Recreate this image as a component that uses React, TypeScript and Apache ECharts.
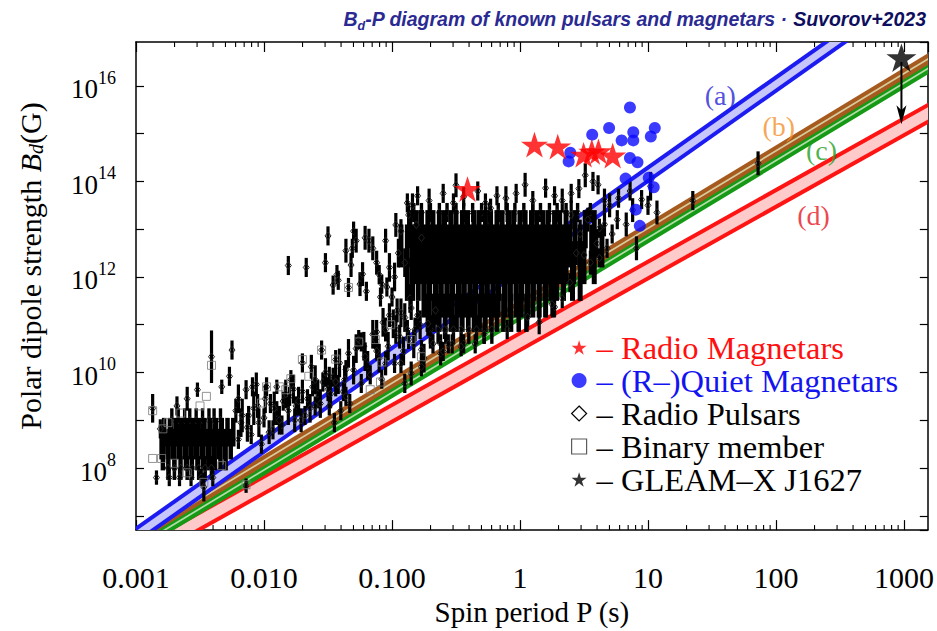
import React, { useEffect, useRef } from 'react';
import * as echarts from 'echarts';

// ---------- axis ranges (log10 units) ----------
const LOG_P_MIN = -3;
const LOG_P_MAX = 3.186;
const LOG_B_MIN = 6.7;
const LOG_B_MAX = 16.92;

const xTickValues = [-3, -2, -1, 0, 1, 2, 3];
const xTickLabels = ['0.001', '0.010', '0.100', '1', '10', '100', '1000'];
const yLabelExponents = [8, 10, 12, 14, 16];
const minorMultipliers = [2, 3, 4, 5, 6, 7, 8, 9];
const minorDecades = [-3, -2, -1, 0, 1, 2, 3];

// ---------- magnetars: [log10 P(s), log10 B(G)] ----------
const radioMagnetars = [
  [-0.41, 13.84], [0.113, 14.77], [0.295, 14.73], [0.497, 14.56], [0.561, 14.62], [0.613, 14.63], [0.724, 14.54],
];
const quietMagnetars = [
  [0.859, 15.55], [0.696, 15.12], [0.564, 14.98], [0.885, 15.03], [0.885, 14.86], [0.794, 14.86], [1.053, 15.12],
  [1.022, 14.94], [0.393, 14.6], [0.38, 14.42], [0.859, 14.49], [0.918, 14.4], [0.825, 14.06], [1.006, 14.08],
  [1.045, 13.88], [0.905, 13.41], [0.936, 13.07],
];
const gleamX = [[2.98, 16.59]];
const gleamArrow = [[2.98, 16.5, 15.2]];

// ---------- radio pulsars: rows of the dense cloud [log10 B, err(dex), bar width, log10 P list] ----------
const coreRows: [number, number, number, number[]][] = [
  [13.35, 0.2, 3.4, [-0.83, -0.77, -0.7, -0.63, -0.57, -0.5, -0.44, -0.37, -0.3, -0.24, -0.17, -0.1, -0.04, 0.03, 0.1, 0.16, 0.23, 0.29, 0.36, 0.45, 0.55]],
  [13.0, 0.4, 5, [-0.86, -0.81, -0.77, -0.72, -0.68, -0.63, -0.59, -0.54, -0.5, -0.45, -0.41, -0.36, -0.32, -0.27, -0.23, -0.18, -0.14, -0.09, -0.05, 0.0, 0.04, 0.09, 0.13, 0.18, 0.22, 0.27, 0.31, 0.36, 0.43, 0.51, 0.58]],
  [12.65, 0.45, 5, [-0.93, -0.88, -0.84, -0.79, -0.75, -0.7, -0.66, -0.61, -0.57, -0.52, -0.48, -0.43, -0.39, -0.34, -0.3, -0.25, -0.21, -0.16, -0.12, -0.07, -0.03, 0.02, 0.06, 0.11, 0.15, 0.2, 0.24, 0.29, 0.33, 0.39, 0.47, 0.56, 0.64]],
  [12.3, 0.45, 5, [-0.81, -0.77, -0.72, -0.68, -0.63, -0.59, -0.54, -0.5, -0.45, -0.41, -0.36, -0.32, -0.27, -0.23, -0.18, -0.14, -0.09, -0.05, 0.0, 0.04, 0.09, 0.13, 0.18, 0.22, 0.27, 0.31, 0.36, 0.42, 0.5, 0.58]],
  [11.95, 0.45, 5, [-0.88, -0.84, -0.795, -0.75, -0.705, -0.66, -0.615, -0.57, -0.525, -0.48, -0.435, -0.39, -0.345, -0.3, -0.255, -0.21, -0.165, -0.12, -0.075, -0.03, 0.015, 0.06, 0.105, 0.15, 0.195, 0.24, 0.285, 0.34, 0.41, 0.47]],
  [11.6, 0.45, 5, [-0.75, -0.71, -0.66, -0.62, -0.57, -0.53, -0.48, -0.44, -0.39, -0.35, -0.3, -0.26, -0.21, -0.17, -0.12, -0.08, -0.03, 0.01, 0.06, 0.1, 0.15, 0.2, 0.26]],
  [11.25, 0.4, 4.5, [-0.72, -0.675, -0.63, -0.585, -0.54, -0.495, -0.45, -0.405, -0.36, -0.315, -0.27, -0.225, -0.18, -0.13, -0.07, -0.01, 0.05]],
  [10.9, 0.3, 3.4, [-0.7, -0.64, -0.58, -0.52, -0.46, -0.4, -0.34, -0.28, -0.22]],
  [10.6, 0.2, 3.2, [-0.62, -0.53, -0.44, -0.35]],
];
const mspRows: [number, number, number, number[]][] = [
  [9.0, 0.25, 3.4, [-2.72, -2.67, -2.62, -2.58, -2.53, -2.48, -2.43, -2.39, -2.34]],
  [8.75, 0.3, 4.5, [-2.78, -2.735, -2.69, -2.645, -2.6, -2.555, -2.51, -2.465, -2.42, -2.375, -2.33, -2.285, -2.24]],
  [8.5, 0.32, 4.5, [-2.8, -2.755, -2.71, -2.665, -2.62, -2.575, -2.53, -2.485, -2.44, -2.395, -2.35, -2.305, -2.26]],
  [8.25, 0.3, 4.5, [-2.79, -2.745, -2.7, -2.655, -2.61, -2.565, -2.52, -2.475, -2.43, -2.385, -2.34, -2.3]],
  [8.0, 0.25, 3.6, [-2.75, -2.7, -2.65, -2.6, -2.56, -2.51, -2.46, -2.41]],
  [7.8, 0.18, 3.2, [-2.74, -2.66, -2.57, -2.49, -2.4]],
];
// individual pulsars [log10 P, log10 B, err(dex)]
const pulsarPoints = [
  [-2.87, 9.25, 0.3], [-2.84, 7.8, 0.15], [-2.81, 8.82, 0.2], [-2.68, 9.3, 0.2], [-2.6, 9.45, 0.25], [-2.52, 9.64, 0.15],
  [-2.41, 10.33, 0.55], [-2.47, 7.6, 0.3], [-2.25, 10.47, 0.2], [-2.27, 9.92, 0.2], [-2.33, 9.7, 0.15], [-2.14, 7.63, 0.15],
  [-2.14, 9.64, 0.2], [-2.09, 9.7, 0.2], [-2.06, 9.75, 0.25], [-1.98, 9.7, 0.2], [-1.9, 9.7, 0.15], [-1.79, 9.85, 0.2],
  [-1.7, 10.2, 0.2], [-1.63, 10.12, 0.25], [-1.55, 10.47, 0.2], [-1.44, 10.27, 0.2], [-1.49, 9.92, 0.2], [-1.36, 10.06, 0.2],
  [-2.22, 9.2, 0.25], [-2.18, 8.95, 0.3], [-2.12, 9.1, 0.2], [-2.05, 9.3, 0.25], [-2.0, 9.05, 0.2], [-1.95, 9.35, 0.2],
  [-1.9, 9.15, 0.25], [-1.85, 9.4, 0.2], [-1.8, 9.5, 0.2], [-1.75, 9.3, 0.2], [-1.7, 9.6, 0.25], [-1.66, 9.45, 0.2],
  [-1.62, 9.7, 0.2], [-1.58, 9.55, 0.3], [-1.54, 9.8, 0.2], [-1.5, 9.65, 0.25], [-1.46, 9.9, 0.2], [-1.42, 9.75, 0.2],
  [-1.38, 9.6, 0.2], [-2.2, 8.6, 0.2], [-2.1, 8.7, 0.2], [-2.02, 8.5, 0.2], [-1.93, 8.8, 0.2], [-1.86, 8.9, 0.2],
  [-1.76, 9.0, 0.25], [-1.68, 9.1, 0.2], [-1.6, 9.3, 0.2], [-1.45, 8.95, 0.2], [-1.4, 9.2, 0.2], [-1.33, 9.35, 0.2],
  [-2.2, 9.45, 0.3], [-2.17, 9.1, 0.35], [-2.13, 8.85, 0.3], [-2.08, 9.25, 0.35], [-2.04, 8.95, 0.3], [-1.99, 9.45, 0.3],
  [-1.96, 8.75, 0.25], [-1.92, 9.25, 0.35], [-1.88, 9.0, 0.3], [-1.83, 9.55, 0.3], [-1.81, 9.2, 0.3], [-1.77, 9.65, 0.3],
  [-1.73, 9.4, 0.3], [-1.71, 9.0, 0.25], [-1.64, 9.25, 0.3], [-1.6, 9.85, 0.3], [-1.56, 9.35, 0.3], [-1.52, 10.0, 0.3],
  [-1.48, 9.55, 0.3], [-1.44, 9.8, 0.3], [-1.41, 10.2, 0.3], [-1.37, 9.85, 0.3], [-1.34, 10.4, 0.3], [-1.3, 10.05, 0.3],
  [-1.28, 10.5, 0.3], [-1.22, 10.55, 0.3], [-1.19, 10.15, 0.3], [-1.15, 10.8, 0.3], [-1.1, 10.3, 0.3], [-1.07, 11.05, 0.3],
  [-1.03, 10.55, 0.3], [-0.97, 10.9, 0.3], [-0.93, 11.25, 0.3], [-0.91, 10.45, 0.3], [-0.86, 11.55, 0.3], [-0.83, 10.6, 0.3],
  [-0.78, 11.0, 0.3], [-0.75, 10.3, 0.3], [-0.7, 10.8, 0.3], [-0.66, 11.3, 0.3],
  [-1.26, 10.69, 0.2], [-1.24, 10.64, 0.2], [-1.13, 10.69, 0.2], [-1.05, 10.9, 0.25], [-0.99, 11.02, 0.3], [-1.21, 10.33, 0.3],
  [-1.05, 10.19, 0.25], [-0.98, 10.19, 0.2], [-0.85, 9.98, 0.25], [-0.77, 10.12, 0.2], [-0.9, 9.77, 0.2], [-1.08, 9.86, 0.2],
  [-1.24, 9.77, 0.2], [-1.36, 9.5, 0.2], [-1.49, 9.3, 0.2], [-0.77, 10.48, 0.2], [-0.87, 10.69, 0.2], [-0.82, 10.9, 0.25],
  [-0.72, 11.02, 0.25], [-0.59, 10.9, 0.2], [-0.56, 10.6, 0.2], [-0.62, 10.4, 0.25], [-0.68, 10.6, 0.2], [-0.6, 10.44, 0.2],
  [-0.93, 10.19, 0.2], [-1.17, 9.95, 0.2], [-1.12, 10.45, 0.2], [-1.02, 11.2, 0.25], [-0.96, 11.3, 0.25], [-0.9, 11.15, 0.3],
  [-0.85, 11.35, 0.25], [-0.8, 11.2, 0.3], [-1.12, 10.85, 0.25], [-0.94, 10.75, 0.25], [-0.88, 10.9, 0.2],
  [-1.81, 12.24, 0.2], [-1.67, 12.2, 0.2], [-1.52, 12.3, 0.2], [-1.5, 12.86, 0.2], [-1.46, 11.83, 0.2], [-1.43, 12.05, 0.2],
  [-1.42, 11.93, 0.2], [-1.36, 12.55, 0.25], [-1.34, 11.78, 0.2], [-1.32, 12.25, 0.25], [-1.31, 12.6, 0.2], [-1.3, 12.96, 0.2],
  [-1.28, 12.76, 0.25], [-1.25, 11.85, 0.25], [-1.23, 12.06, 0.25], [-1.21, 12.82, 0.25], [-1.18, 12.76, 0.25], [-1.15, 12.6, 0.25],
  [-1.12, 12.3, 0.25], [-1.09, 11.58, 0.2], [-1.08, 11.85, 0.2], [-1.05, 12.76, 0.25], [-1.04, 11.79, 0.2], [-1.0, 11.58, 0.2],
  [-1.02, 12.2, 0.3], [-0.97, 13.09, 0.25], [-0.95, 12.5, 0.3], [-0.93, 12.96, 0.25], [-0.87, 13.3, 0.25], [-0.84, 13.5, 0.25],
  [-0.81, 13.09, 0.25], [-0.77, 12.82, 0.25], [-1.1, 12.05, 0.2], [-1.2, 11.7, 0.2], [-0.98, 12.0, 0.3], [-0.9, 12.3, 0.3],
  [-0.88, 13.55, 0.2], [-0.8, 13.7, 0.2], [-0.71, 13.6, 0.25], [-0.6, 13.75, 0.2], [-0.52, 13.55, 0.2], [-0.5, 13.92, 0.25],
  [-0.44, 13.68, 0.2], [-0.33, 13.8, 0.2], [-0.27, 13.55, 0.2], [-0.23, 13.44, 0.2], [-0.18, 13.7, 0.2], [-0.11, 13.65, 0.25],
  [-0.03, 13.75, 0.2], [0.04, 13.93, 0.25], [0.1, 13.6, 0.2], [0.2, 13.86, 0.2], [0.27, 13.7, 0.2], [0.33, 13.6, 0.25],
  [0.4, 13.75, 0.2], [0.46, 13.85, 0.2], [0.51, 14.13, 0.25], [0.57, 14.0, 0.2], [0.61, 13.93, 0.2], [0.66, 13.6, 0.25],
  [0.7, 13.5, 0.25], [0.77, 13.65, 0.2], [0.86, 13.8, 0.2], [0.88, 13.4, 0.25], [0.95, 13.62, 0.2], [1.0, 13.5, 0.2],
  [1.02, 13.9, 0.3], [1.07, 13.35, 0.25], [0.76, 13.2, 0.2], [0.83, 13.1, 0.25], [0.91, 12.6, 0.25], [0.72, 12.9, 0.2],
  [0.62, 13.02, 0.2], [0.68, 12.6, 0.2],
  [0.4, 13.3, 0.3], [0.47, 12.9, 0.3], [0.53, 13.2, 0.25], [0.6, 12.7, 0.3], [0.66, 13.1, 0.25], [0.44, 12.5, 0.25],
  [0.55, 12.3, 0.25], [0.5, 12.46, 0.2], [0.39, 11.88, 0.2], [0.33, 11.55, 0.2], [0.27, 11.37, 0.2], [0.15, 11.05, 0.25],
  [0.06, 11.16, 0.2], [-0.1, 10.9, 0.2], [-0.28, 10.8, 0.2], [-0.46, 10.54, 0.2], [0.62, 12.4, 0.2], [0.25, 11.43, 0.25],
  [1.35, 13.6, 0.2], [1.86, 14.38, 0.25],
];
// binary members [log10 P, log10 B]
const binaryMembers = [
  [-2.87, 8.2], [-2.87, 9.2], [-2.8, 8.2], [-2.79, 8.82], [-2.75, 8.95], [-2.7, 8.1], [-2.65, 9.15], [-2.6, 7.9],
  [-2.5, 9.3], [-2.45, 9.5], [-2.41, 10.15], [-2.47, 7.7], [-2.33, 8.05], [-2.14, 7.65], [-2.02, 9.36], [-1.98, 9.7],
  [-1.88, 9.7], [-1.83, 9.64], [-1.79, 9.87], [-1.7, 10.27], [-1.65, 9.92], [-1.55, 10.47], [-1.44, 10.28], [-1.26, 10.64],
  [-1.17, 9.64], [-1.13, 10.69], [-1.09, 9.8], [-1.08, 10.22], [-1.01, 11.0], [-0.85, 10.69], [-0.77, 10.33], [-1.34, 11.78],
];

// ---------- death-line bands: line endpoints [log10 P, log10 B] ----------
const bandAUpper = [[-3.3, 6.163], [3.4, 18.826]];
const bandALower = [[-3.3, 5.883], [3.4, 18.546]];
const bandBUpper = [[-3.3, 6.124], [3.4, 16.978]];
const bandBLower = [[-3.3, 5.984], [3.4, 16.838]];
const bandCUpper = [[-3.3, 5.924], [3.4, 16.778]];
const bandCLower = [[-3.3, 5.784], [3.4, 16.638]];
const bandDUpper = [[-3.3, 5.87], [3.4, 15.92]];
const bandDLower = [[-3.3, 5.52], [3.4, 15.57]];
const bandLabels = ['(a)', '(b)', '(c)', '(d)'];
const bandLabelPos = [[1.564, 15.79], [2.022, 15.15], [2.356, 14.65], [2.293, 13.28]];

const STAR = 'path://M50,0L61.2,34.5L97.6,34.5L68.2,55.9L79.4,90.5L50,69.1L20.6,90.5L31.8,55.9L2.4,34.5L38.8,34.5Z';
const SERIF = 'Liberation Serif';

const N_RM = '– Radio Magnetars';
const N_QM = '– (R–)Quiet Magnetars';
const N_RP = '– Radio Pulsars';
const N_BM = '– Binary member';
const N_GX = '– GLEAM–X J1627';

function buildOption() {
  const pulsarItems: number[][] = [];
  [...coreRows, ...mspRows].forEach(([b, e, w, ps]) => ps.forEach((p) => pulsarItems.push([p, b, e, w])));
  pulsarPoints.forEach((d) => pulsarItems.push([d[0], d[1], d[2], 3.2]));

  const minorTicks: number[][] = [];
  minorDecades.forEach((d) => minorMultipliers.forEach((m) => {
    const v = d + Math.log10(m);
    if (v < LOG_P_MAX) minorTicks.push([v, LOG_B_MIN]);
  }));

  const bandStyles = [
    { up: bandDUpper, lo: bandDLower, line: '#ff1414', fill: '#ffcaca' },
    { up: bandCUpper, lo: bandCLower, line: '#169a16', fill: '#b4dca8' },
    { up: bandBUpper, lo: bandBLower, line: '#a65a1e', fill: '#d6cc9c' },
    { up: bandAUpper, lo: bandALower, line: '#1c1cf2', fill: '#c6c6fa' },
  ];
  const bandData = bandStyles.map((b, i) => [b.up[0][0], b.up[0][1], b.lo[0][1], b.up[1][0], b.up[1][1], b.lo[1][1], i]);

  const xFormatter = (v: number) => {
    const i = xTickValues.findIndex((t) => Math.abs(t - v) < 1e-6);
    return i >= 0 ? xTickLabels[i] : '';
  };
  const yFormatter = (v: number) => {
    const e = yLabelExponents.find((t) => Math.abs(t - v) < 1e-6);
    return e !== undefined ? `{b|10}{s|${e}}` : '';
  };

  const axisLine = { show: true, onZero: false, lineStyle: { color: '#000', width: 1.5 } };

  return {
    animation: false,
    backgroundColor: '#fff',
    title: {
      text: '{it|B}{sub|d}{it|-P diagram of known pulsars and magnetars · }{bd|Suvorov+2023}',
      right: 6,
      top: 2,
      textStyle: {
        rich: {
          it: { fontFamily: 'Liberation Sans', fontStyle: 'italic', fontSize: 19.5, color: '#2a2a92', lineHeight: 24 },
          sub: { fontFamily: 'Liberation Sans', fontStyle: 'italic', fontSize: 12.5, color: '#2a2a92', padding: [14, 0, 0, 0], lineHeight: 24 },
          bd: { fontFamily: 'Liberation Sans', fontStyle: 'italic', fontWeight: 'bold', fontSize: 19.5, color: '#0e0e5e', lineHeight: 24 },
        },
      },
    },
    grid: { left: 136, right: 4, top: 42, bottom: 96, containLabel: false },
    legend: {
      orient: 'vertical',
      left: 566,
      top: 326,
      itemWidth: 15,
      itemHeight: 15,
      itemGap: 0,
      selectedMode: false,
      textStyle: { fontFamily: SERIF, fontSize: 32.5, lineHeight: 33, color: '#000', padding: [0, 0, 0, 5] },
      data: [
        { name: N_RM, icon: STAR, itemStyle: { color: '#ff0000' }, textStyle: { color: '#ff1010' } },
        { name: N_QM, icon: 'circle', itemStyle: { color: '#0a0aff' }, textStyle: { color: '#1414f0' } },
        { name: N_RP, icon: 'diamond', itemStyle: { color: '#ffffff', borderColor: '#000', borderWidth: 1.2 } },
        { name: N_BM, icon: 'rect', itemStyle: { color: '#ffffff', borderColor: '#333', borderWidth: 1.2 } },
        { name: N_GX, icon: STAR, itemStyle: { color: '#000' } },
      ],
    },
    xAxis: [
      {
        type: 'value', min: LOG_P_MIN, max: LOG_P_MAX, interval: 1, position: 'bottom',
        name: 'Spin period P (s)', nameLocation: 'middle', nameGap: 58,
        nameTextStyle: { fontFamily: SERIF, fontSize: 29, color: '#000' },
        axisLine, splitLine: { show: false },
        axisTick: { inside: true, length: 10, lineStyle: { color: '#000', width: 1.2 } },
        axisLabel: { formatter: xFormatter, margin: 32, fontFamily: SERIF, fontSize: 30, color: '#000', showMaxLabel: false },
      },
      {
        type: 'value', min: LOG_P_MIN, max: LOG_P_MAX, interval: 1, position: 'top',
        axisLine, splitLine: { show: false },
        axisTick: { inside: true, length: 10, lineStyle: { color: '#000', width: 1.2 } },
        axisLabel: { show: false },
      },
    ],
    yAxis: [
      {
        type: 'value', min: LOG_B_MIN, max: LOG_B_MAX, splitNumber: 10, position: 'left',
        name: 'Polar dipole strength {i|B}{s|d}(G)', nameLocation: 'middle', nameGap: 90, nameRotate: 90,
        nameTextStyle: {
          fontFamily: SERIF, fontSize: 30, color: '#000', padding: [0, 0, 0, 40],
          rich: {
            i: { fontFamily: SERIF, fontStyle: 'italic', fontSize: 30, color: '#000' },
            s: { fontFamily: SERIF, fontStyle: 'italic', fontSize: 20, color: '#000', padding: [12, 0, 0, 0] },
          },
        },
        axisLine, splitLine: { show: false },
        axisTick: { inside: true, length: 8, lineStyle: { color: '#000', width: 1.2 } },
        axisLabel: {
          formatter: yFormatter, margin: 20, showMinLabel: false, showMaxLabel: false,
          rich: {
            b: { fontFamily: SERIF, fontSize: 27, color: '#000', lineHeight: 34, verticalAlign: 'bottom' },
            s: { fontFamily: SERIF, fontSize: 18, color: '#000', lineHeight: 20, verticalAlign: 'top' },
          },
        },
      },
      {
        type: 'value', min: LOG_B_MIN, max: LOG_B_MAX, splitNumber: 10, position: 'right',
        axisLine, splitLine: { show: false },
        axisTick: { inside: true, length: 8, lineStyle: { color: '#000', width: 1.2 } },
        axisLabel: { show: false },
      },
    ],
    series: [
      {
        type: 'custom', name: 'minorTicks', silent: true, z: 1, clip: false,
        data: minorTicks, encode: { x: 0, y: 1 },
        renderItem: (_p: any, api: any) => {
          const v = api.value(0);
          const b = api.coord([v, LOG_B_MIN]);
          const t = api.coord([v, LOG_B_MAX]);
          const st = { stroke: '#000', lineWidth: 1.1 };
          return {
            type: 'group', children: [
              { type: 'line', shape: { x1: b[0], y1: b[1], x2: b[0], y2: b[1] - 5 }, style: st },
              { type: 'line', shape: { x1: t[0], y1: t[1], x2: t[0], y2: t[1] + 5 }, style: st },
            ],
          };
        },
      },
      {
        type: 'custom', name: 'bands', silent: true, z: 2, clip: true,
        data: bandData, encode: { x: [0, 3], y: [1, 2, 4, 5] },
        renderItem: (_p: any, api: any) => {
          const s = bandStyles[api.value(6)];
          const u0 = api.coord([api.value(0), api.value(1)]);
          const u1 = api.coord([api.value(3), api.value(4)]);
          const l0 = api.coord([api.value(0), api.value(2)]);
          const l1 = api.coord([api.value(3), api.value(5)]);
          return {
            type: 'group', children: [
              { type: 'polygon', shape: { points: [u0, u1, l1, l0] }, style: { fill: s.fill } },
              { type: 'line', shape: { x1: u0[0], y1: u0[1], x2: u1[0], y2: u1[1] }, style: { stroke: s.line, lineWidth: 4 } },
              { type: 'line', shape: { x1: l0[0], y1: l0[1], x2: l1[0], y2: l1[1] }, style: { stroke: s.line, lineWidth: 4 } },
            ],
          };
        },
      },
      {
        type: 'custom', name: N_RP, z: 3, clip: true,
        itemStyle: { color: '#ffffff', borderColor: '#000' },
        data: pulsarItems, encode: { x: 0, y: 1 },
        renderItem: (_p: any, api: any) => {
          const x = api.value(0), y = api.value(1), e = api.value(2), w = api.value(3);
          const t = api.coord([x, y + e]);
          const b = api.coord([x, y - e]);
          const c = api.coord([x, y]);
          const children: any[] = [
            { type: 'line', shape: { x1: t[0], y1: t[1], x2: b[0], y2: b[1] }, style: { stroke: '#000', lineWidth: w } },
          ];
          if (w < 4) {
            children.push({ type: 'polygon', shape: { points: [[c[0], c[1] - 3.8], [c[0] + 3, c[1]], [c[0], c[1] + 3.8], [c[0] - 3, c[1]]] }, style: { fill: 'none', stroke: '#222', lineWidth: 1 } });
          }
          return { type: 'group', children };
        },
      },
      {
        type: 'scatter', name: N_BM, z: 4, symbol: 'rect', symbolSize: 8,
        itemStyle: { color: 'rgba(255,255,255,0)', borderColor: '#7a7a7a', borderWidth: 1 },
        data: binaryMembers,
      },
      {
        type: 'scatter', name: N_QM, z: 5, symbol: 'circle', symbolSize: 12,
        itemStyle: { color: '#0a0aff' }, data: quietMagnetars,
      },
      {
        type: 'scatter', name: N_RM, z: 6, symbol: STAR, symbolSize: 27, symbolKeepAspect: true,
        itemStyle: { color: '#ff0000' }, data: radioMagnetars,
      },
      {
        type: 'custom', name: 'gleamArrow', silent: true, z: 6, clip: false,
        data: gleamArrow, encode: { x: 0, y: [1, 2] },
        renderItem: (_p: any, api: any) => {
          const s = api.coord([api.value(0), api.value(1)]);
          const e = api.coord([api.value(0), api.value(2)]);
          return {
            type: 'group', children: [
              { type: 'line', shape: { x1: s[0], y1: s[1], x2: e[0], y2: e[1] - 10 }, style: { stroke: '#000', lineWidth: 2 } },
              { type: 'polygon', shape: { points: [[e[0], e[1]], [e[0] - 5, e[1] - 19], [e[0], e[1] - 14], [e[0] + 5, e[1] - 19]] }, style: { fill: '#000' } },
            ],
          };
        },
      },
      {
        type: 'scatter', name: N_GX, z: 7, symbol: STAR, symbolSize: 30, symbolKeepAspect: true,
        itemStyle: { color: '#000' }, data: gleamX,
      },
      {
        type: 'scatter', name: 'bandLabels', silent: true, z: 7, symbolSize: 0,
        data: bandLabels.map((n, i) => ({
          name: n, value: bandLabelPos[i],
          label: { color: ['#2323d8', '#f4902c', '#1e9e1e', '#e8141e'][i] },
        })),
        label: { show: true, position: 'inside', formatter: '{b}', fontFamily: SERIF, fontSize: 28 },
      },
    ],
  };
}

export default function App() {
  const ref = useRef<HTMLDivElement>(null);
  useEffect(() => {
    if (!ref.current) return;
    const chart = echarts.init(ref.current, undefined, { renderer: 'svg' });
    chart.setOption(buildOption() as any);
    return () => chart.dispose();
  }, []);
  return (
    <div
      ref={ref}
      style={{ position: 'fixed', left: 0, top: 0, width: 937, height: 631, background: '#fff' }}
    />
  );
}
